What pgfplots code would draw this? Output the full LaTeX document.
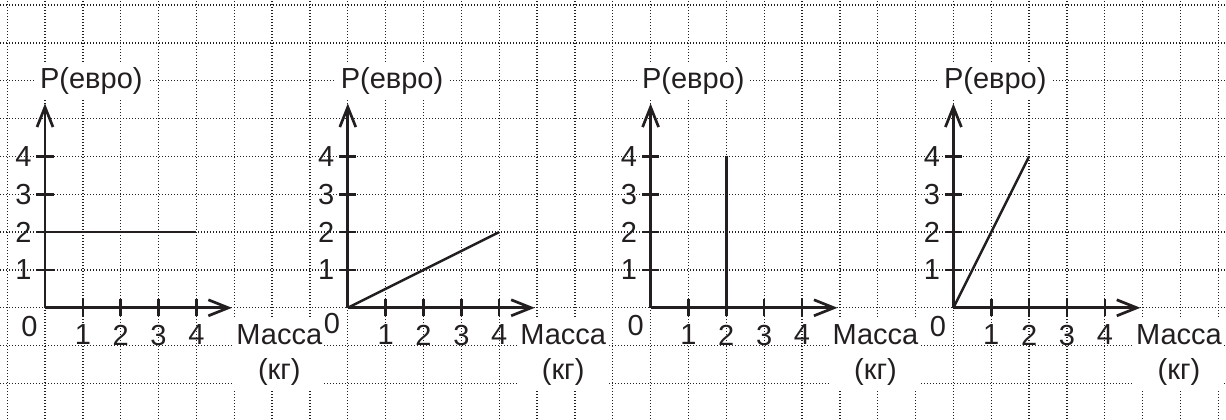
\documentclass[border=0pt]{standalone}
\usepackage{fontspec}
\setmainfont{Liberation Sans}
\usepackage{pgfplots}
\pgfplotsset{compat=1.18}
\usetikzlibrary{arrows.meta}
\definecolor{ink}{RGB}{35,31,32}
\newcommand\lbl{\fontsize{14.5}{17.5}\selectfont}

% one grid cell = 18.925pt, every small axis uses it as its unit
\pgfplotsset{
  mini/.style={
    x=18.925pt, y=18.925pt, anchor=origin,
    xmin=0, xmax=4.94, ymin=0, ymax=5.4,
    axis x line*=middle, axis y line*=middle,
    axis line style={ink, line width=1.35pt, -{Straight Barb[length=10pt,width=8pt]}},
    xtick={1,2,3,4}, ytick={1,2,3,4},
    tick align=center, major tick length=8.5pt,
    tick style={ink, line width=1.25pt},
    tick label style={font=\lbl, text=ink, inner sep=0pt, /pgf/number format/assume math mode=true},
    xticklabel style={anchor=north, yshift=-4.1pt},
    yticklabel style={anchor=east, xshift=-2.3pt},
    clip=false,
  },
  dline/.style={ink, line width=1.2pt, mark=none},
}
\tikzset{
  zero/.style={font=\lbl, text=ink, inner sep=0pt},
  ylab/.style={font=\lbl, text=ink, fill=white, inner sep=2.5pt, anchor=base west},
  xlab/.style={font=\lbl, text=ink, fill=white, align=center, inner xsep=1pt, inner ysep=3pt, anchor=north},
}

\begin{document}
\begin{tikzpicture}
% dotted squared paper
\begin{axis}[name=bg, at={(0,0)}, anchor=south west, scale only axis,
  width=613pt, height=209.5pt, xmin=0, xmax=1226, ymin=0, ymax=419,
  xtick={7.15,45,...,1220}, ytick={35.5,73.35,...,415},
  xticklabels={}, yticklabels={}, major tick length=0pt,
  grid=major, grid style={ink, line width=0.65pt, dash pattern=on 0.55pt off 0.95pt},
  axis line style={draw=none}]
\end{axis}

\begin{axis}[mini, at={(22.5pt,55.6pt)}]
\addplot[dline] coordinates {(0,2) (4,2)};
\node[zero, xshift=-7.75pt, yshift=-9.35pt] at (axis cs:0,0) {0};
\node[ylab] at (axis cs:-0.272,5.80) {P(евро)};
\node[xlab] at (axis cs:6.19,-0.27) {Масса\\(кг)};
\end{axis}

\begin{axis}[mini, at={(173.9pt,55.6pt)}]
\addplot[dline] coordinates {(0,0) (4,2)};
\node[zero, xshift=-7.9pt, yshift=-7.85pt] at (axis cs:0,0) {0};
\node[ylab] at (axis cs:-0.328,5.80) {P(евро)};
\node[xlab] at (axis cs:5.69,-0.27) {Масса\\(кг)};
\end{axis}

\begin{axis}[mini, at={(325.3pt,55.6pt)}]
\addplot[dline] coordinates {(2,0) (2,4)};
\node[zero, xshift=-7.5pt, yshift=-9.1pt] at (axis cs:0,0) {0};
\node[ylab] at (axis cs:-0.367,5.80) {P(евро)};
\node[xlab] at (axis cs:5.94,-0.27) {Масса\\(кг)};
\end{axis}

\begin{axis}[mini, at={(476.7pt,55.6pt)}]
\addplot[dline] coordinates {(0,0) (2,4)};
\node[zero, xshift=-7.7pt, yshift=-9.35pt] at (axis cs:0,0) {0};
\node[ylab] at (axis cs:-0.389,5.80) {P(евро)};
\node[xlab] at (axis cs:5.96,-0.27) {Масса\\(кг)};
\end{axis}

\pgfresetboundingbox
\path[use as bounding box] (0,0) rectangle (613pt,209.5pt);
\end{tikzpicture}
\end{document}
